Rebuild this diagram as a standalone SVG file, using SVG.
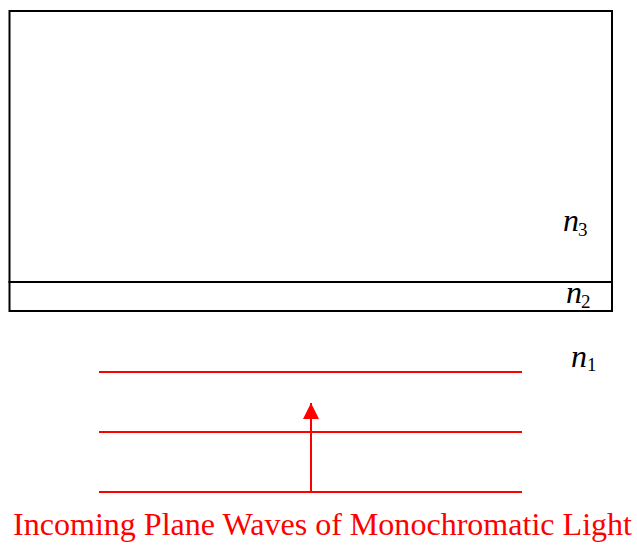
<svg xmlns="http://www.w3.org/2000/svg" width="637" height="550" viewBox="0 0 637 550">
<style>
.box{fill:none;stroke:#000;stroke-width:2}
.wave{stroke:#ff0000;stroke-width:2;fill:none}
</style>
<defs>
<marker id="ah" markerWidth="16" markerHeight="16" refX="16" refY="8" orient="auto" markerUnits="userSpaceOnUse" viewBox="0 0 16 16">
<path d="M0,0 L16,8 L0,16 Z" fill="#ff0000"/>
</marker>
</defs>
<g id="substrate"><rect class="box" x="9.5" y="11" width="602.5" height="271"/></g>
<g id="film"><rect class="box" x="9.5" y="282" width="602.5" height="29"/></g>
<g id="label-n3">
<text x="563" y="231" font-family="Liberation Serif" font-style="italic" font-size="32">n</text>
<text x="578" y="236" font-family="Liberation Serif" font-size="19">3</text>
</g>
<g id="label-n2">
<text x="566" y="303" font-family="Liberation Serif" font-style="italic" font-size="32">n</text>
<text x="581" y="308" font-family="Liberation Serif" font-size="19">2</text>
</g>
<g id="label-n1">
<text x="571" y="367" font-family="Liberation Serif" font-style="italic" font-size="32">n</text>
<text x="587" y="371" font-family="Liberation Serif" font-size="19">1</text>
</g>
<g id="waves">
<line class="wave" x1="99" y1="372" x2="522" y2="372"/>
<line class="wave" x1="99" y1="432" x2="522" y2="432"/>
<line class="wave" x1="99" y1="492" x2="522" y2="492"/>
</g>
<g id="connectors">
<line class="wave" x1="311" y1="492" x2="311" y2="403" marker-end="url(#ah)"/>
</g>
<g id="caption"><text x="13" y="535" font-family="Liberation Serif" font-size="32" fill="#ff0000" textLength="619" lengthAdjust="spacingAndGlyphs">Incoming Plane Waves of Monochromatic Light</text></g>
</svg>
